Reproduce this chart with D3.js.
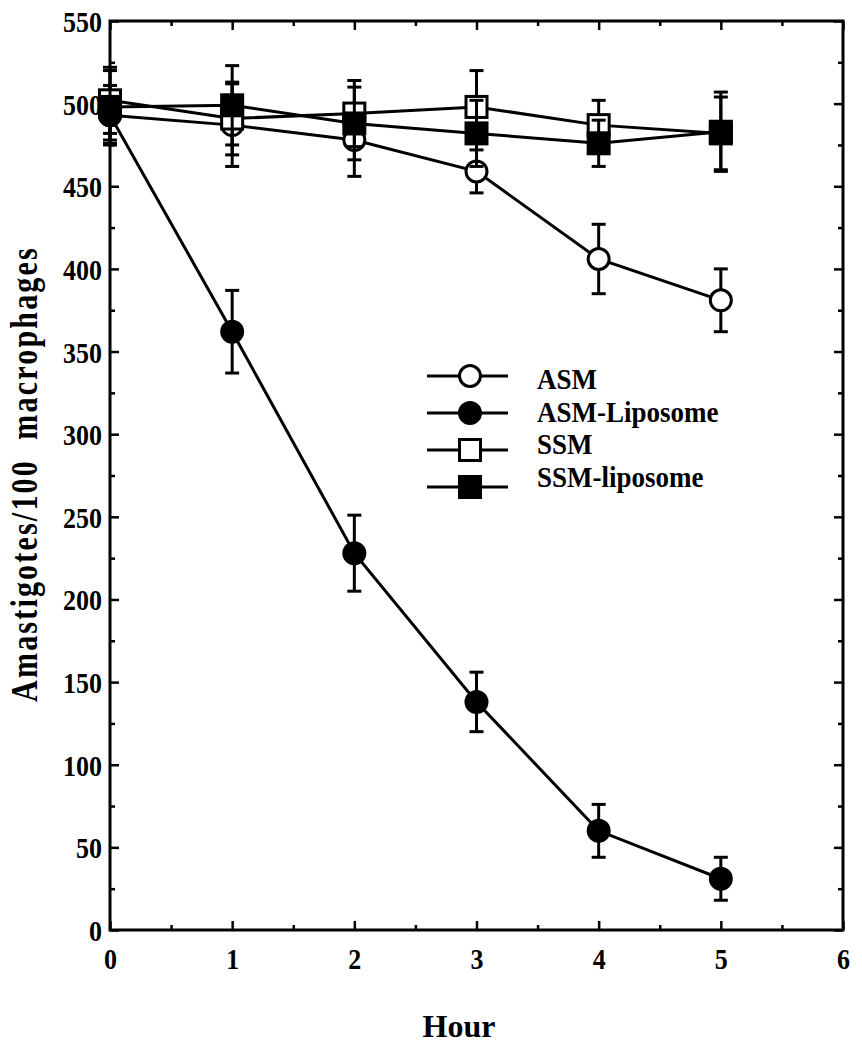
<!DOCTYPE html>
<html><head><meta charset="utf-8">
<script src="https://cdn.jsdelivr.net/npm/d3@7"></script>
<style>body{margin:0;background:#fff}svg text{font-family:"Liberation Serif","Times New Roman",serif;font-weight:bold;fill:#000}</style>
</head><body><svg id="c" width="862" height="1050"></svg>
<script>
const hours = [0,1,2,3,4,5];
const asm = [493,487,478,459,406,381];
const asmErr = [15,25,22,13,21,19];
const asmLip = [493,362,228,138,60,31];
const asmLipErr = [18,25,23,18,16,13];
const ssm = [502,491,494,498,487,482];
const ssmErr = [20,22,20,22,15,22];
const ssmLip = [498,499,488,482,476,483];
const ssmLipErr = [22,24,22,20,14,24];
const xTicks = [0,1,2,3,4,5,6];
const yTicks = [0,50,100,150,200,250,300,350,400,450,500,550];
const seriesNames = ["ASM","ASM-Liposome","SSM","SSM-liposome"];

const series = [
  {name:seriesNames[0], v:asm, e:asmErr, shape:"circle", fill:"#fff"},
  {name:seriesNames[1], v:asmLip, e:asmLipErr, shape:"circle", fill:"#000"},
  {name:seriesNames[2], v:ssm, e:ssmErr, shape:"square", fill:"#fff"},
  {name:seriesNames[3], v:ssmLip, e:ssmLipErr, shape:"square", fill:"#000"}
];

const svg = d3.select("#c");
const L=110,R=843,T=21,B=930;
const x = d3.scaleLinear().domain([0,6]).range([L,R]);
const y = d3.scaleLinear().domain([0,550]).range([B,T]);

svg.append("rect").attr("x",L).attr("y",T).attr("width",R-L).attr("height",B-T)
  .attr("fill","none").attr("stroke","#000").attr("stroke-width",3);

const xMinor = d3.range(0.5,6,1);
const yMinor = d3.range(25,550,50);
const bx = svg.append("g").attr("transform",`translate(0,${B})`)
  .call(d3.axisBottom(x).tickValues(xTicks).tickSize(-9).tickPadding(0).tickFormat(d3.format("d")));
svg.append("g").attr("transform",`translate(0,${B})`)
  .call(d3.axisBottom(x).tickValues(xMinor).tickSize(-5).tickFormat(""));
const ly = svg.append("g").attr("transform",`translate(${L},0)`)
  .call(d3.axisLeft(y).tickValues(yTicks).tickSize(-9).tickPadding(0).tickFormat(d3.format("d")));
svg.append("g").attr("transform",`translate(${L},0)`)
  .call(d3.axisLeft(y).tickValues(yMinor).tickSize(-5).tickFormat(""));
svg.append("g").attr("transform",`translate(0,${T})`)
  .call(d3.axisTop(x).tickValues(xTicks).tickSize(-9).tickFormat(""));
svg.append("g").attr("transform",`translate(0,${T})`)
  .call(d3.axisTop(x).tickValues(xMinor).tickSize(-5).tickFormat(""));
svg.append("g").attr("transform",`translate(${R},0)`)
  .call(d3.axisRight(y).tickValues(yTicks).tickSize(-9).tickFormat(""));
svg.append("g").attr("transform",`translate(${R},0)`)
  .call(d3.axisRight(y).tickValues(yMinor).tickSize(-5).tickFormat(""));
svg.selectAll(".domain").remove();
svg.selectAll(".tick line").attr("stroke","#000").attr("stroke-width",2.5);
bx.selectAll(".tick text").attr("font-size",26).attr("y",0).attr("dy",0)
  .attr("transform","translate(0,39) scale(1,1.15)");
ly.selectAll(".tick text").attr("font-size",26).attr("x",-8).attr("dy","0.35em")
  .attr("transform","scale(1,1.15)");

svg.append("text").attr("x",459).attr("y",1037).attr("text-anchor","middle")
  .attr("font-size",32).text("Hour");
svg.append("text").attr("transform",`translate(37,474) rotate(-90) scale(1,1.25)`)
  .attr("text-anchor","middle").attr("font-size",30).attr("letter-spacing",2.2)
  .attr("xml:space","preserve").text("Amastigotes/100\u00a0\u00a0macrophages");

const line = d3.line().x((d,i)=>x(hours[i])).y(d=>y(d));

function marker(g, shape, fill, cx, cy){
  if(shape==="circle"){
    g.append("circle").attr("cx",cx).attr("cy",cy).attr("r",10.5)
      .attr("fill",fill).attr("stroke","#000").attr("stroke-width",3);
  } else {
    g.append("rect").attr("x",cx-10.5).attr("y",cy-10.5).attr("width",21).attr("height",21)
      .attr("fill",fill).attr("stroke","#000").attr("stroke-width",3);
  }
}

series.forEach(s=>{
  const g = svg.append("g");
  g.append("path").datum(s.v).attr("d",line).attr("fill","none")
    .attr("stroke","#000").attr("stroke-width",3);
  s.v.forEach((v,i)=>{
    const cx=x(hours[i]);
    g.append("line").attr("x1",cx).attr("x2",cx).attr("y1",y(v-s.e[i])).attr("y2",y(v+s.e[i]))
      .attr("stroke","#000").attr("stroke-width",3);
    [v-s.e[i],v+s.e[i]].forEach(w=>{
      g.append("line").attr("x1",cx-7).attr("x2",cx+7).attr("y1",y(w)).attr("y2",y(w))
        .attr("stroke","#000").attr("stroke-width",3);
    });
  });
  s.v.forEach((v,i)=>marker(g,s.shape,s.fill,x(hours[i]),y(v)));
});

const lg = svg.append("g");
series.forEach((s,i)=>{
  const yy = 376 + i*37;
  lg.append("line").attr("x1",427).attr("x2",508).attr("y1",yy).attr("y2",yy)
    .attr("stroke","#000").attr("stroke-width",3);
  marker(lg,s.shape,s.fill,470,yy);
  lg.append("text").attr("transform",`translate(537,${389 + i*32.5}) scale(1,1.1)`)
    .attr("font-size",27).text(s.name);
});
</script></body></html>
